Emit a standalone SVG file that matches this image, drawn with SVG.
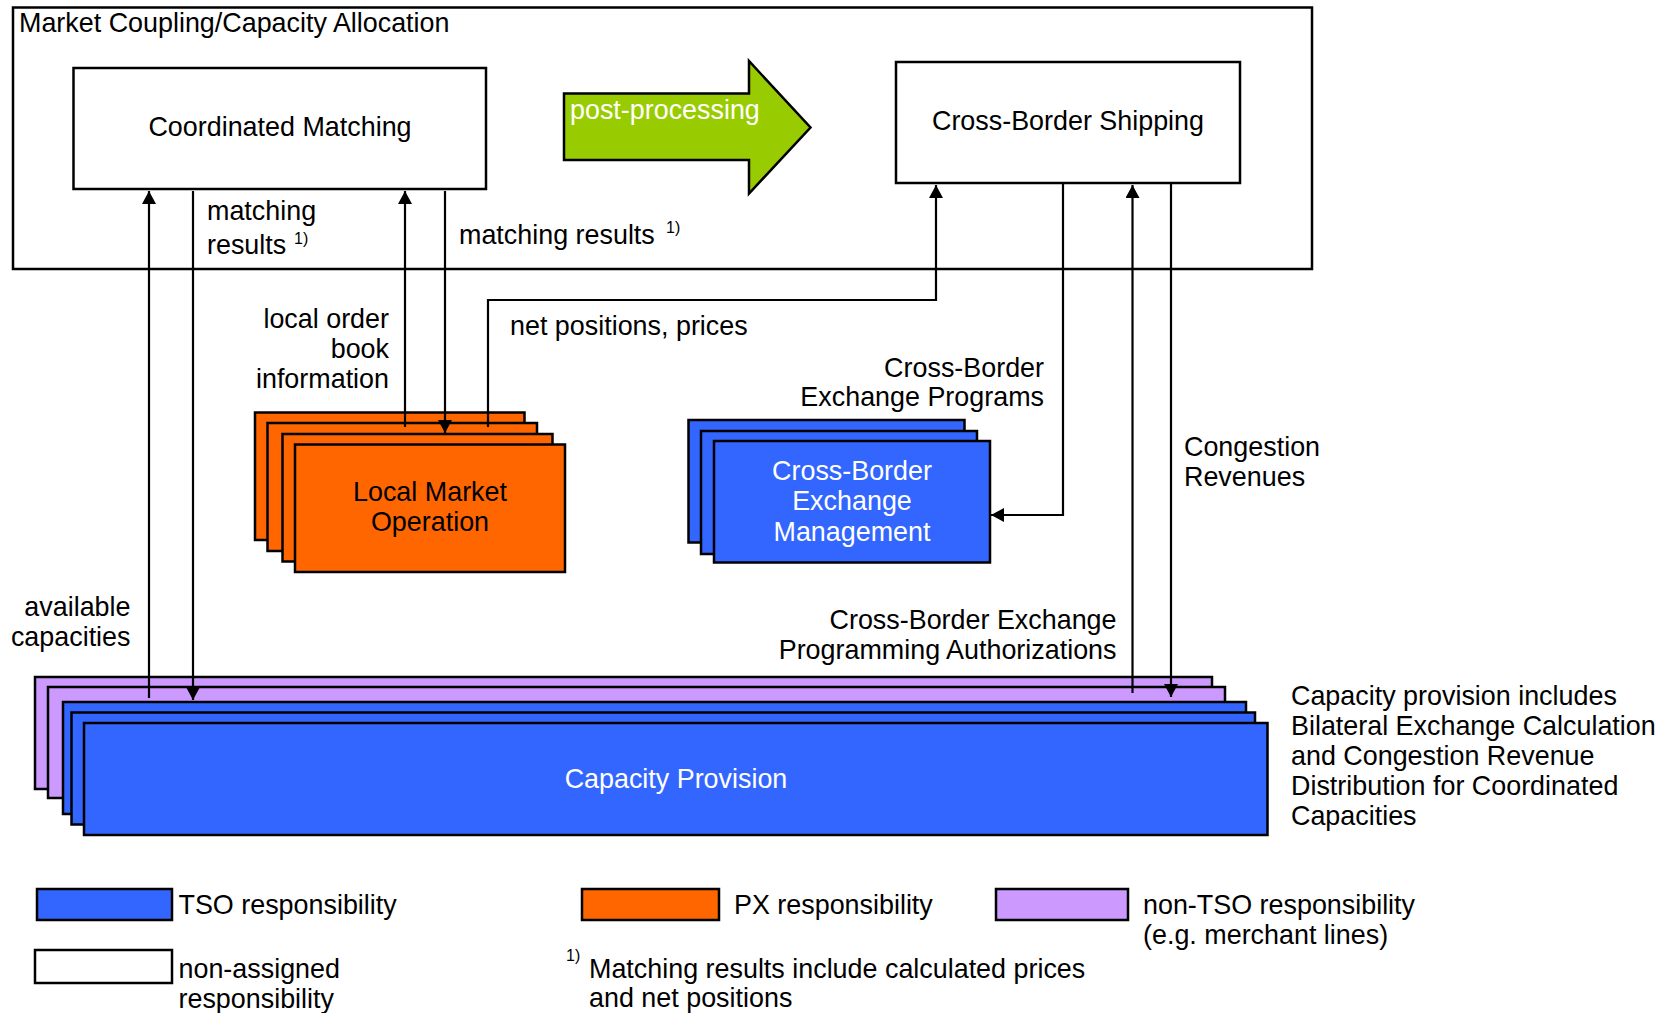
<svg xmlns="http://www.w3.org/2000/svg" width="1671" height="1013" viewBox="0 0 1671 1013">
<defs>
<style>
text{font-family:"Liberation Sans",Arial,Helvetica,sans-serif;font-size:26.9px;fill:#000}
.w{fill:#fff}
.m{text-anchor:middle}
.e{text-anchor:end}
.sup{font-size:16px}
.box{stroke:#000;stroke-width:2.5}
.white{fill:#fff}
.orange{fill:#FF6600}
.blue{fill:#3366FF}
.purple{fill:#CC99FF}
.green{fill:#99CC00}
.con{fill:none;stroke:#000;stroke-width:2.2}
</style>
<marker id="ah" markerUnits="userSpaceOnUse" markerWidth="14" markerHeight="14" refX="13" refY="7" orient="auto">
<path d="M0,0 L13,7 L0,14 z" fill="#000"/>
</marker>
</defs>
<rect width="1671" height="1013" fill="#fff"/>

<g id="market-coupling">
<rect class="box" x="13" y="7.5" width="1299" height="261.5" fill="none"/>
<text x="19" y="32">Market Coupling/Capacity Allocation</text>
</g>

<g id="coordinated-matching">
<rect class="box white" x="73.5" y="68" width="412.5" height="121"/>
<text class="m" x="280" y="136">Coordinated Matching</text>
</g>

<g id="post-processing">
<polygon class="box green" stroke-width="2" points="564,93.5 749,93.5 749,61 810.5,127.5 749,193.5 749,160 564,160"/>
<text class="w" x="570" y="119">post-processing</text>
</g>

<g id="cross-border-shipping">
<rect class="box white" x="896" y="62" width="344" height="121"/>
<text class="m" x="1068" y="130">Cross-Border Shipping</text>
</g>

<g id="local-market-operation">
<rect class="box orange" x="255" y="412.5" width="269.5" height="127.5"/>
<rect class="box orange" x="267.5" y="423" width="269.5" height="128"/>
<rect class="box orange" x="282.5" y="434" width="270" height="127.5"/>
<rect class="box orange" x="295" y="444.5" width="270" height="127.5"/>
<text class="m" x="430" y="501">Local Market</text>
<text class="m" x="430" y="531">Operation</text>
</g>

<g id="cross-border-exchange-management">
<rect class="box blue" x="688.5" y="420" width="276" height="122.5"/>
<rect class="box blue" x="701" y="431" width="276" height="123"/>
<rect class="box blue" x="714" y="441" width="276" height="121.5"/>
<text class="m w" x="852" y="480">Cross-Border</text>
<text class="m w" x="852" y="510">Exchange</text>
<text class="m w" x="852" y="541">Management</text>
</g>

<g id="capacity-provision">
<rect class="box purple" x="35" y="677" width="1177" height="112"/>
<rect class="box purple" x="48" y="687" width="1177" height="111"/>
<rect class="box blue" x="63" y="702" width="1183" height="112"/>
<rect class="box blue" x="71.5" y="712.5" width="1183.5" height="112"/>
<rect class="box blue" x="84" y="723" width="1183.5" height="112"/>
<text class="m w" x="676" y="788">Capacity Provision</text>
</g>

<g id="connectors">
<path class="con" d="M149,698 V191" marker-end="url(#ah)"/>
<path class="con" d="M193,191 V700" marker-end="url(#ah)"/>
<path class="con" d="M405,427 V191" marker-end="url(#ah)"/>
<path class="con" d="M445,191 V433" marker-end="url(#ah)"/>
<path class="con" d="M488,427 V300 H936 V185" marker-end="url(#ah)"/>
<path class="con" d="M1063,183 V515 H991" marker-end="url(#ah)"/>
<path class="con" d="M1132.5,693 V185" marker-end="url(#ah)"/>
<path class="con" d="M1171,183 V697" marker-end="url(#ah)"/>
</g>

<g id="labels">
<text x="207" y="220">matching</text>
<text x="207" y="254">results</text>
<text class="sup" x="294" y="244">1)</text>
<text x="459" y="244">matching results</text>
<text class="sup" x="666" y="233">1)</text>
<text class="e" x="389" y="328">local order</text>
<text class="e" x="389" y="358">book</text>
<text class="e" x="389" y="388">information</text>
<text x="510" y="335">net positions, prices</text>
<text class="e" x="1044" y="377">Cross-Border</text>
<text class="e" x="1044" y="406">Exchange Programs</text>
<text x="1184" y="456">Congestion</text>
<text x="1184" y="486">Revenues</text>
<text class="e" x="130.5" y="616">available</text>
<text class="e" x="130.5" y="646">capacities</text>
<text class="e" x="1116.5" y="629">Cross-Border Exchange</text>
<text class="e" x="1116.5" y="659">Programming Authorizations</text>
<text x="1291" y="705">Capacity provision includes</text>
<text x="1291" y="735">Bilateral Exchange Calculation</text>
<text x="1291" y="765">and Congestion Revenue</text>
<text x="1291" y="795">Distribution for Coordinated</text>
<text x="1291" y="825">Capacities</text>
</g>

<g id="legend">
<rect class="box blue" x="37" y="889" width="135" height="31"/>
<text x="178.5" y="914">TSO responsibility</text>
<rect class="box orange" x="582" y="889" width="137" height="31"/>
<text x="734" y="914">PX responsibility</text>
<rect class="box purple" x="996" y="889" width="132" height="31"/>
<text x="1143" y="914">non-TSO responsibility</text>
<text x="1143" y="944">(e.g. merchant lines)</text>
<rect class="box white" x="35" y="950" width="137" height="33"/>
<text x="178.5" y="978">non-assigned</text>
<text x="178.5" y="1008">responsibility</text>
<text class="sup" x="566" y="961">1)</text>
<text x="589" y="978">Matching results include calculated prices</text>
<text x="589" y="1007">and net positions</text>
</g>
</svg>
